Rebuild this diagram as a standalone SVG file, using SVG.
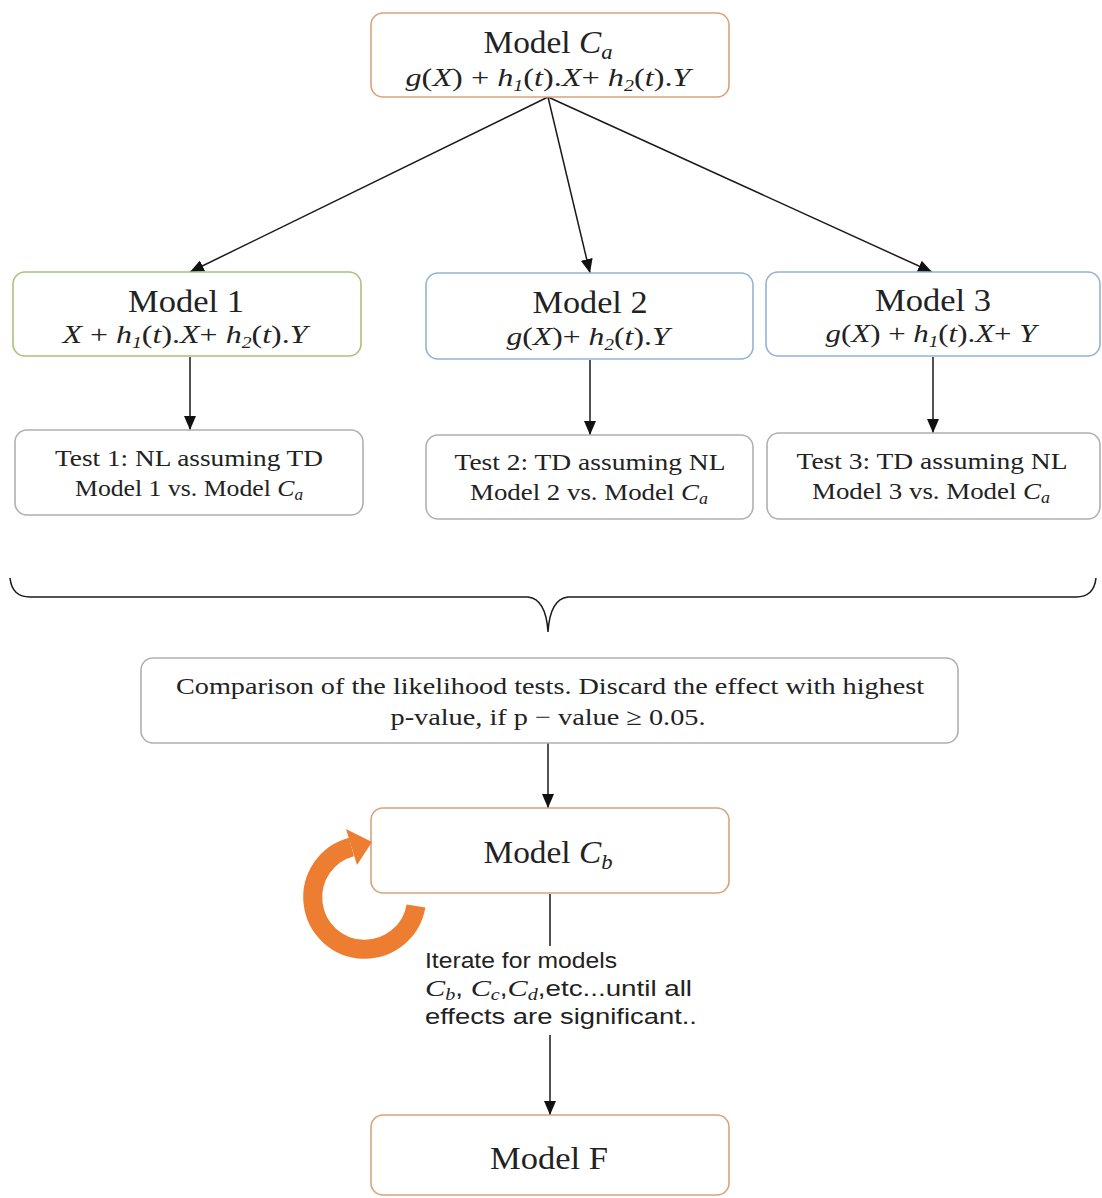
<svg xmlns="http://www.w3.org/2000/svg" width="1102" height="1198" viewBox="0 0 1102 1198">
<style>
.box{fill:#ffffff;stroke-width:1.6}
.org{stroke:#d9a27a}
.grn{stroke:#a8c27c}
.blu{stroke:#93b3d3}
.gry{stroke:#b0b0b0}
.t{font-family:"Liberation Serif","DejaVu Serif",serif;fill:#222;text-anchor:middle}
.big{font-size:31px}
.mid{font-size:24px}
.f{font-size:26px}
.i{font-style:italic}
.sub{font-size:16px;font-style:italic}
.bsub{font-size:21px;font-style:italic}
.cal{font-family:"Liberation Sans","Open Sans",sans-serif;font-size:22px;fill:#222}
.con{stroke:#1a1a1a;stroke-width:1.5;fill:none}
</style>
<defs>
<marker id="ah" viewBox="0 0 14 12" refX="14" refY="6" markerWidth="14" markerHeight="12" markerUnits="userSpaceOnUse" orient="auto">
<path d="M0,0 L14,6 L0,12 z" fill="#111"/>
</marker>
</defs>
<rect width="1102" height="1198" fill="#ffffff"/>

<g id="connectors">
<line class="con" x1="548" y1="97" x2="190" y2="272" marker-end="url(#ah)"/>
<line class="con" x1="548" y1="97" x2="590" y2="273" marker-end="url(#ah)"/>
<line class="con" x1="548" y1="97" x2="932" y2="272" marker-end="url(#ah)"/>
<line class="con" x1="190" y1="357" x2="190" y2="430" marker-end="url(#ah)"/>
<line class="con" x1="590" y1="360" x2="590" y2="435" marker-end="url(#ah)"/>
<line class="con" x1="933" y1="357" x2="933" y2="433" marker-end="url(#ah)"/>
<path class="con" d="M10 578 Q12 597 30 597 L528 597 Q546 599 548 632 Q550 599 568 597 L1076 597 Q1094 597 1096 578" stroke="#3a3a3a" stroke-width="1.8"/>
<line class="con" x1="548" y1="743" x2="548" y2="808" marker-end="url(#ah)"/>
<line class="con" x1="550" y1="894" x2="550" y2="946"/>
<line class="con" x1="550" y1="1035" x2="550" y2="1115" marker-end="url(#ah)"/>
</g>

<g id="model-ca">
<rect class="box org" x="371" y="13" width="358" height="84" rx="12"/>
<text class="t big" x="548" y="53" textLength="129" lengthAdjust="spacingAndGlyphs">Model <tspan class="i">C</tspan><tspan class="bsub" dy="6">a</tspan></text>
<text class="t f" x="548" y="86" textLength="285" lengthAdjust="spacingAndGlyphs"><tspan class="i">g</tspan>(<tspan class="i">X</tspan>) + <tspan class="i">h</tspan><tspan class="sub" dy="5">1</tspan><tspan dy="-5">(</tspan><tspan class="i">t</tspan>).<tspan class="i">X</tspan>+ <tspan class="i">h</tspan><tspan class="sub" dy="5">2</tspan><tspan dy="-5">(</tspan><tspan class="i">t</tspan>).<tspan class="i">Y</tspan></text>
</g>

<g id="model-1">
<rect class="box grn" x="13" y="272" width="348" height="84" rx="12"/>
<text class="t big" x="186" y="312" textLength="116" lengthAdjust="spacingAndGlyphs">Model 1</text>
<text class="t f" x="185" y="343" textLength="245" lengthAdjust="spacingAndGlyphs"><tspan class="i">X</tspan> + <tspan class="i">h</tspan><tspan class="sub" dy="5">1</tspan><tspan dy="-5">(</tspan><tspan class="i">t</tspan>).<tspan class="i">X</tspan>+ <tspan class="i">h</tspan><tspan class="sub" dy="5">2</tspan><tspan dy="-5">(</tspan><tspan class="i">t</tspan>).<tspan class="i">Y</tspan></text>
</g>

<g id="model-2">
<rect class="box blu" x="426" y="273" width="327" height="86" rx="12"/>
<text class="t big" x="590" y="313" textLength="115" lengthAdjust="spacingAndGlyphs">Model 2</text>
<text class="t f" x="588" y="345" textLength="163" lengthAdjust="spacingAndGlyphs"><tspan class="i">g</tspan>(<tspan class="i">X</tspan>)+ <tspan class="i">h</tspan><tspan class="sub" dy="5">2</tspan><tspan dy="-5">(</tspan><tspan class="i">t</tspan>).<tspan class="i">Y</tspan></text>
</g>

<g id="model-3">
<rect class="box blu" x="766" y="272" width="334" height="84" rx="12"/>
<text class="t big" x="933" y="311" textLength="116" lengthAdjust="spacingAndGlyphs">Model 3</text>
<text class="t f" x="931" y="342" textLength="211" lengthAdjust="spacingAndGlyphs"><tspan class="i">g</tspan>(<tspan class="i">X</tspan>) + <tspan class="i">h</tspan><tspan class="sub" dy="5">1</tspan><tspan dy="-5">(</tspan><tspan class="i">t</tspan>).<tspan class="i">X</tspan>+ <tspan class="i">Y</tspan></text>
</g>

<g id="test-1">
<rect class="box gry" x="15" y="430" width="348" height="85" rx="12"/>
<text class="t mid" x="189" y="466" textLength="268" lengthAdjust="spacingAndGlyphs">Test 1: NL assuming TD</text>
<text class="t mid" x="189" y="496" textLength="228" lengthAdjust="spacingAndGlyphs">Model 1 vs. Model <tspan class="i">C</tspan><tspan class="sub" dy="4">a</tspan></text>
</g>

<g id="test-2">
<rect class="box gry" x="426" y="435" width="327" height="84" rx="12"/>
<text class="t mid" x="590" y="470" textLength="271" lengthAdjust="spacingAndGlyphs">Test 2: TD assuming NL</text>
<text class="t mid" x="589" y="500" textLength="238" lengthAdjust="spacingAndGlyphs">Model 2 vs. Model <tspan class="i">C</tspan><tspan class="sub" dy="4">a</tspan></text>
</g>

<g id="test-3">
<rect class="box gry" x="767" y="433" width="333" height="86" rx="12"/>
<text class="t mid" x="932" y="469" textLength="271" lengthAdjust="spacingAndGlyphs">Test 3: TD assuming NL</text>
<text class="t mid" x="931" y="499" textLength="238" lengthAdjust="spacingAndGlyphs">Model 3 vs. Model <tspan class="i">C</tspan><tspan class="sub" dy="4">a</tspan></text>
</g>

<g id="comparison">
<rect class="box gry" x="141" y="658" width="817" height="85" rx="12"/>
<text class="t mid" x="550" y="694" textLength="748" lengthAdjust="spacingAndGlyphs">Comparison of the likelihood tests. Discard the effect with highest</text>
<text class="t mid" x="548" y="725" textLength="315" lengthAdjust="spacingAndGlyphs">p-value, if p − value ≥ 0.05.</text>
</g>

<g id="model-cb">
<rect class="box org" x="371" y="808" width="358" height="85" rx="12"/>
<text class="t big" x="548" y="863" textLength="129" lengthAdjust="spacingAndGlyphs">Model <tspan class="i">C</tspan><tspan class="bsub" dy="6">b</tspan></text>
</g>

<g id="loop-arrow">
<path d="M416 906 A52 52 0 1 1 351.5 847" fill="none" stroke="#ed7d31" stroke-width="19"/>
<polygon points="346,829 357,865 372,842" fill="#ed7d31"/>
</g>

<g id="iterate-label">
<text class="cal" x="425" y="968" textLength="192" lengthAdjust="spacingAndGlyphs">Iterate for models</text>
<text class="cal" x="425" y="996" textLength="267" lengthAdjust="spacingAndGlyphs"><tspan font-family="Liberation Serif" font-style="italic" font-size="24">C</tspan><tspan font-family="Liberation Serif" font-style="italic" font-size="16" dy="4">b</tspan><tspan dy="-4">, </tspan><tspan font-family="Liberation Serif" font-style="italic" font-size="24">C</tspan><tspan font-family="Liberation Serif" font-style="italic" font-size="16" dy="4">c</tspan><tspan dy="-4">,</tspan><tspan font-family="Liberation Serif" font-style="italic" font-size="24">C</tspan><tspan font-family="Liberation Serif" font-style="italic" font-size="16" dy="4">d</tspan><tspan dy="-4">,etc...until all</tspan></text>
<text class="cal" x="425" y="1024" textLength="272" lengthAdjust="spacingAndGlyphs">effects are significant..</text>
</g>

<g id="model-f">
<rect class="box org" x="371" y="1115" width="358" height="80" rx="12"/>
<text class="t big" x="549" y="1169" textLength="118" lengthAdjust="spacingAndGlyphs">Model F</text>
</g>
</svg>
